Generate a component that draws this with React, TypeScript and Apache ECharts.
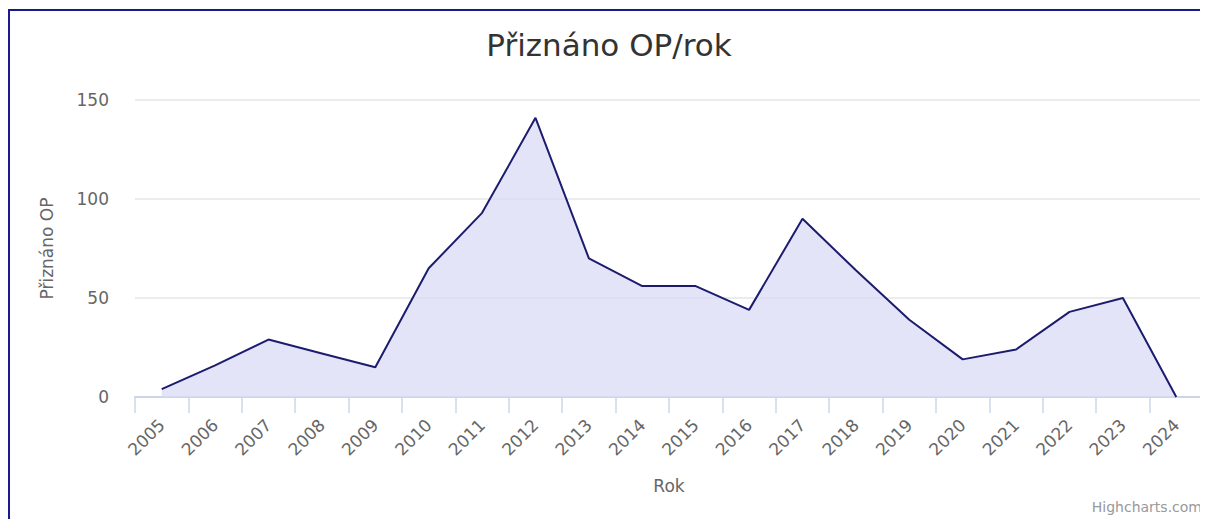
import React, { useEffect, useRef } from "react";
import * as echarts from "echarts";

const years: string[] = [
  "2005", "2006", "2007", "2008", "2009", "2010", "2011", "2012", "2013", "2014",
  "2015", "2016", "2017", "2018", "2019", "2020", "2021", "2022", "2023", "2024",
];
const granted: number[] = [4, 16, 29, 22, 15, 65, 93, 141, 70, 56, 56, 44, 90, 64, 39, 19, 24, 43, 50, 0];
const yTicks = { min: 0, max: 150, interval: 50 };

const FONT = "'DejaVu Sans', Verdana, sans-serif";

export default function App() {
  const ref = useRef<HTMLDivElement>(null);
  useEffect(() => {
    if (!ref.current) return;
    const chart = echarts.init(ref.current, undefined, { renderer: "svg" });
    chart.setOption({
      animation: false,
      backgroundColor: "#ffffff",
      title: {
        text: "Přiznáno OP/rok",
        left: "center",
        top: 13,
        padding: [5, 5, 5, 13],
        textStyle: { fontFamily: FONT, fontSize: 31, fontWeight: "normal", color: "#333333" },
      },
      grid: { left: 125, right: 5, top: 89, bottom: 123, containLabel: false },
      xAxis: {
        type: "category",
        data: years,
        boundaryGap: true,
        name: "Rok",
        nameLocation: "middle",
        nameGap: 80,
        nameTextStyle: { fontFamily: FONT, fontSize: 17, color: "#666666" },
        axisLine: { show: true, lineStyle: { color: "#ccd6eb", width: 2 } },
        axisTick: { show: true, length: 16, lineStyle: { color: "#ccd6eb", width: 1.5 } },
        axisLabel: {
          rotate: 45,
          margin: 25,
          interval: 0,
          fontFamily: FONT,
          fontSize: 17,
          color: "#666666",
        },
        splitLine: { show: false },
      },
      yAxis: {
        type: "value",
        min: yTicks.min,
        max: yTicks.max,
        interval: yTicks.interval,
        name: "Přiznáno OP",
        nameLocation: "middle",
        nameGap: 80,
        nameRotate: 90,
        nameTextStyle: { fontFamily: FONT, fontSize: 17, color: "#666666" },
        axisLine: { show: false },
        axisTick: { show: false },
        axisLabel: { margin: 26, fontFamily: FONT, fontSize: 17, color: "#666666" },
        splitLine: { show: true, lineStyle: { color: "#e6e6e6", width: 1.5 } },
      },
      series: [
        {
          type: "line",
          data: granted,
          showSymbol: false,
          symbol: "none",
          lineStyle: { color: "#1c1c6e", width: 2 },
          itemStyle: { color: "#1c1c6e" },
          areaStyle: { color: "rgb(218,219,246)", opacity: 0.75 },
        },
      ],
      graphic: [
        {
          type: "text",
          right: 6,
          bottom: 6,
          style: {
            text: "Highcharts.com",
            fontFamily: FONT,
            fontSize: 14,
            fill: "#999999",
          },
        },
      ],
    });
    return () => chart.dispose();
  }, []);

  return (
    <div
      style={{
        position: "relative",
        top: 1,
        width: 1200,
        height: 511,
        boxSizing: "border-box",
        borderTop: "2px solid #1a1a8c",
        borderLeft: "2px solid #1a1a8c",
        background: "#ffffff",
      }}
    >
      <div ref={ref} style={{ width: 1198, height: 509 }} />
    </div>
  );
}
